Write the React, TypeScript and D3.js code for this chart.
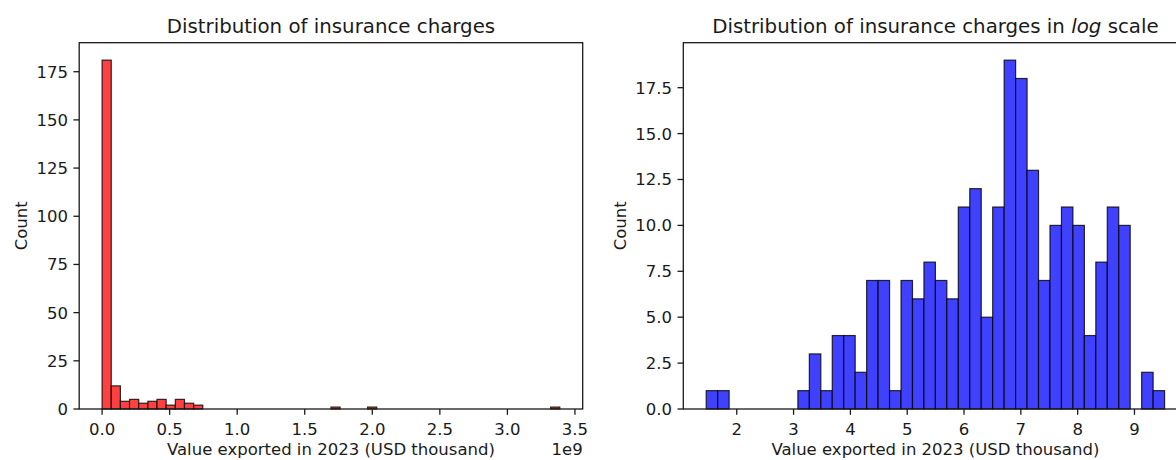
import React from 'react';
import * as d3 from 'd3';

const W = 1176;
const H = 460;

// raw value range of the data (USD thousand)
const rawMin = 29;
const rawMax = 3.388e9;

// left histogram: 50 bins over [rawMin, rawMax]
const leftCounts = [
  181, 12, 4, 5, 3, 4, 5, 2, 5, 3,
  2, 0, 0, 0, 0, 0, 0, 0, 0, 0,
  0, 0, 0, 0, 0, 1, 0, 0, 0, 1,
  0, 0, 0, 0, 0, 0, 0, 0, 0, 0,
  0, 0, 0, 0, 0, 0, 0, 0, 0, 1,
];

// right histogram: 40 bins over [log10(rawMin), log10(rawMax)]
const rightCounts = [
  1, 1, 0, 0, 0, 0, 0, 0, 1, 3,
  1, 4, 4, 2, 7, 7, 1, 7, 6, 8,
  7, 6, 11, 12, 5, 11, 19, 18, 13, 7,
  10, 11, 10, 4, 8, 11, 10, 0, 2, 1,
];

const leftXTicks = [0, 0.5e9, 1.0e9, 1.5e9, 2.0e9, 2.5e9, 3.0e9, 3.5e9];
const leftXTickLabels = ['0.0', '0.5', '1.0', '1.5', '2.0', '2.5', '3.0', '3.5'];
const leftYTicks = [0, 25, 50, 75, 100, 125, 150, 175];
const rightXTicks = [2, 3, 4, 5, 6, 7, 8, 9];
const rightYTicks = [0, 2.5, 5, 7.5, 10, 12.5, 15, 17.5];

const xLabel = 'Value exported in 2023 (USD thousand)';
const yLabel = 'Count';

const FONT = 'DejaVu Sans, Verdana, sans-serif';
const TICK_FS = 16.5;
const TITLE_FS = 19.8;
const TEXT = '#1a1a1a';
const TOP = 42.7;
const BOTTOM = 409;
const TICK_LEN = 5.8;

type PanelProps = {
  left: number;
  right: number;
  lo: number;
  hi: number;
  counts: number[];
  color: string;
  xTicks: number[];
  xTickLabels: string[];
  yTicks: number[];
  yFmt: (v: number) => string;
  title: React.ReactNode;
  offsetText?: string;
  yLabelX: number;
};

function Panel(p: PanelProps) {
  const span = p.hi - p.lo;
  const x = d3.scaleLinear().domain([p.lo - 0.05 * span, p.hi + 0.05 * span]).range([p.left, p.right]);
  const maxC = d3.max(p.counts) as number;
  const y = d3.scaleLinear().domain([0, maxC * 1.05]).range([BOTTOM, TOP]);
  const n = p.counts.length;
  const edges = d3.range(n + 1).map((i) => p.lo + (i * span) / n);
  const cx = (p.left + p.right) / 2;
  const cy = (TOP + BOTTOM) / 2;
  return (
    <g>
      {p.counts.map((c, i) =>
        c > 0 ? (
          <rect
            key={i}
            x={x(edges[i])}
            y={y(c)}
            width={x(edges[i + 1]) - x(edges[i])}
            height={y(0) - y(c)}
            fill={p.color}
            stroke="rgba(0,0,0,0.8)"
            strokeWidth={1.2}
          />
        ) : null
      )}
      <rect x={p.left} y={TOP} width={p.right - p.left} height={BOTTOM - TOP} fill="none" stroke={TEXT} strokeWidth={1.3} />
      {p.xTicks.map((t, i) => (
        <g key={'x' + i}>
          <line x1={x(t)} x2={x(t)} y1={BOTTOM} y2={BOTTOM + TICK_LEN} stroke={TEXT} strokeWidth={1.3} />
          <text x={x(t)} y={435} textAnchor="middle" fontSize={TICK_FS} fontFamily={FONT} fill={TEXT}>
            {p.xTickLabels[i]}
          </text>
        </g>
      ))}
      {p.yTicks.map((t, i) => (
        <g key={'y' + i}>
          <line x1={p.left - TICK_LEN} x2={p.left} y1={y(t)} y2={y(t)} stroke={TEXT} strokeWidth={1.3} />
          <text x={p.left - TICK_LEN - 5.5} y={y(t)} dy="0.36em" textAnchor="end" fontSize={TICK_FS} fontFamily={FONT} fill={TEXT}>
            {p.yFmt(t)}
          </text>
        </g>
      ))}
      <text x={cx} y={455} textAnchor="middle" fontSize={TICK_FS} fontFamily={FONT} fill={TEXT}>
        {xLabel}
      </text>
      {p.offsetText ? (
        <text x={p.right} y={455} textAnchor="end" fontSize={TICK_FS} fontFamily={FONT} fill={TEXT}>
          {p.offsetText}
        </text>
      ) : null}
      <text
        transform={`translate(${p.yLabelX},${cy}) rotate(-90)`}
        textAnchor="middle"
        fontSize={TICK_FS}
        fontFamily={FONT}
        fill={TEXT}
      >
        {yLabel}
      </text>
      <text x={cx} y={33} textAnchor="middle" fontSize={TITLE_FS} fontFamily={FONT} fill={TEXT}>
        {p.title}
      </text>
    </g>
  );
}

export default function App() {
  const logLo = Math.log10(rawMin);
  const logHi = Math.log10(rawMax);
  return (
    <svg
      width={W}
      height={H}
      viewBox={`0 0 ${W} ${H}`}
      style={{ position: 'absolute', left: 0, top: 0, background: '#fff' }}
    >
      <rect x={0} y={0} width={W} height={H} fill="#fff" />
      <Panel
        left={79.2}
        right={582.7}
        lo={0}
        hi={rawMax}
        counts={leftCounts}
        color="#ff4040"
        xTicks={leftXTicks}
        xTickLabels={leftXTickLabels}
        yTicks={leftYTicks}
        yFmt={(v) => d3.format('d')(v)}
        title="Distribution of insurance charges"
        offsetText="1e9"
        yLabelX={27}
      />
      <Panel
        left={683.3}
        right={1187.5}
        lo={logLo}
        hi={logHi}
        counts={rightCounts}
        color="#4040ff"
        xTicks={rightXTicks}
        xTickLabels={rightXTicks.map((v) => String(v))}
        yTicks={rightYTicks}
        yFmt={(v) => d3.format('.1f')(v)}
        title={
          <>
            <tspan>Distribution of insurance charges in </tspan>
            <tspan fontStyle="italic">log</tspan>
            <tspan> scale</tspan>
          </>
        }
        yLabelX={626}
      />
    </svg>
  );
}
